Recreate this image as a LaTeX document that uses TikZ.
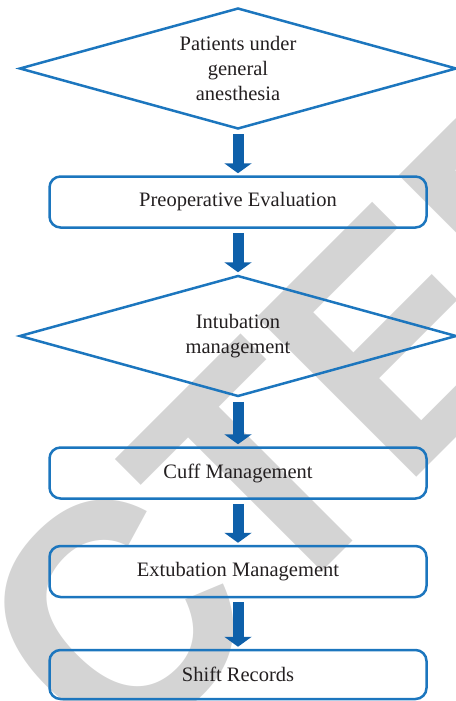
\documentclass[tikz,border=0pt]{standalone}
\usepackage{fontspec}
\setmainfont{Liberation Serif}
\newfontfamily\wmfont{Liberation Sans}
\usetikzlibrary{shapes.geometric,arrows.meta}
\definecolor{boxblue}{RGB}{28,118,190}
\definecolor{arrowblue}{RGB}{14,96,170}
\definecolor{txt}{RGB}{35,31,32}
\definecolor{wmgray}{RGB}{212,212,212}
\begin{document}
\begin{tikzpicture}[x=1pt,y=1pt,
  wm/.style={rotate=45, xscale=0.92, inner sep=0pt, outer sep=0pt, text=wmgray, font=\wmfont\bfseries\fontsize{328}{328}\selectfont},
  dia/.style={diamond, draw=boxblue, line width=2.5pt, inner sep=0pt, minimum width=437pt, minimum height=121pt},
  stepbox/.style={rectangle, rounded corners=11pt, draw=boxblue, line width=2.5pt, minimum width=377pt, minimum height=51pt, inner sep=0pt},
  lbl/.style={text=txt, font=\fontsize{20.5}{25}\selectfont, align=center, inner sep=0pt},
  flow/.style={arrowblue, line width=11pt, -{Triangle[width=27pt,length=10pt]}, shorten <=4pt, shorten >=2pt}]
\useasboundingbox (0,0) rectangle (455,-701);
\begin{scope}
\clip (0,0) rectangle (455,-701);
\node[wm, anchor=base] (wT) at (337.3,-556.5) {T};
\node[wm, anchor=base east] (wC) at (wT.base west) {C};
\node[wm, anchor=base west] (wE) at (wT.base east) {E};
\node[wm, anchor=base west] (wD) at (wE.base east) {D};
\end{scope}
\node[dia] (d1) at (238,-68.5) {};
\node[lbl] (t1) at (d1.center) {Patients under\\general\\anesthesia};
\node[stepbox] (b1) at (238,-202) {};
\node[lbl] (t2) at (b1.center) {Preoperative Evaluation};
\node[dia] (d2) at (238,-336) {};
\node[lbl] (t3) at (d2.center) {Intubation\\management};
\node[stepbox] (b2) at (238,-473) {};
\node[lbl] (t4) at (b2.center) {Cuff Management};
\node[stepbox] (b3) at (238,-571.5) {};
\node[lbl] (t5) at (b3.center) {Extubation Management};
\node[stepbox, minimum height=49pt] (b4) at (238,-674.5) {};
\node[lbl] (t6) at (b4.center) {Shift Records};
\draw[flow] (d1.south) -- (b1.north);
\draw[flow] (b1.south) -- (d2.north);
\draw[flow] (d2.south) -- (b2.north);
\draw[flow] (b2.south) -- (b3.north);
\draw[flow] (b3.south) -- (b4.north);
\end{tikzpicture}
\end{document}
